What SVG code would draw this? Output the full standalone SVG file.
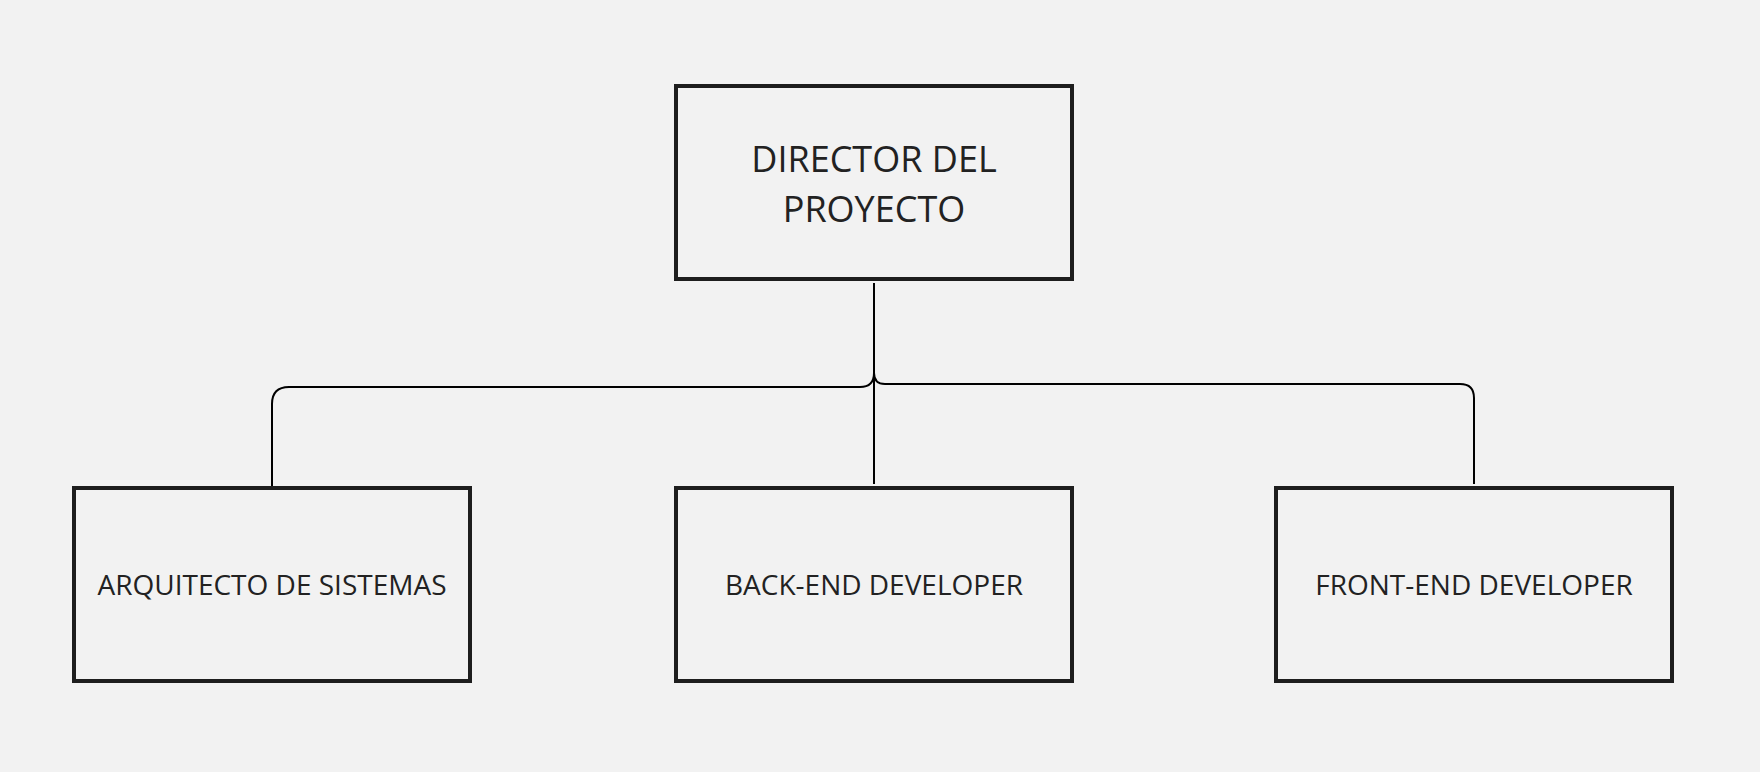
<svg xmlns="http://www.w3.org/2000/svg" width="1760" height="772" viewBox="0 0 1760 772">
<style>
.box{fill:#f2f2f2;stroke:#1e1e1e;stroke-width:4}
.lbl{font-family:"Open Sans","Noto Sans",sans-serif;fill:#222;text-anchor:middle}
.big{font-size:36px}
.sm{font-size:28px}
.conn{fill:none;stroke:#000;stroke-width:2}
</style>
<rect width="1760" height="772" fill="#f2f2f2"/>
<g id="connectors">
<path class="conn" d="M874 283 L874 373 Q874 387 860 387 L289 387 Q272 387 272 404 L272 486"/>
<path class="conn" d="M874 283 L874 373 Q874 384 885 384 L1460 384 Q1474 384 1474 398 L1474 484"/>
<path class="conn" d="M874 283 L874 484"/>
</g>
<g id="director">
<rect class="box" x="676" y="86" width="396" height="193"/>
<text class="lbl big" x="874" y="172">DIRECTOR DEL</text>
<text class="lbl big" x="874" y="222">PROYECTO</text>
</g>
<g id="arquitecto">
<rect class="box" x="74" y="488" width="396" height="193"/>
<text class="lbl sm" x="272" y="595">ARQUITECTO DE SISTEMAS</text>
</g>
<g id="backend">
<rect class="box" x="676" y="488" width="396" height="193"/>
<text class="lbl sm" x="874" y="595">BACK-END DEVELOPER</text>
</g>
<g id="frontend">
<rect class="box" x="1276" y="488" width="396" height="193"/>
<text class="lbl sm" x="1474" y="595">FRONT-END DEVELOPER</text>
</g>
</svg>
